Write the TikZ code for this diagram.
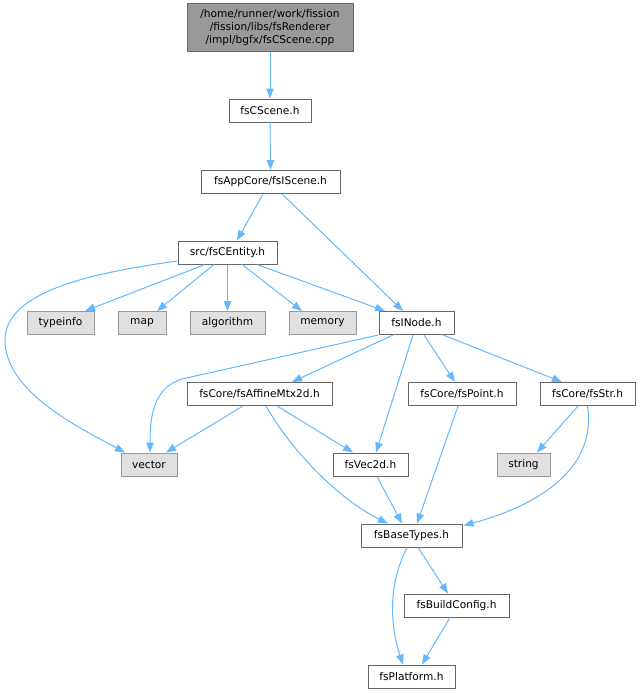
\documentclass[tikz,border=0pt]{standalone}
\usepackage{fontspec}
\setmainfont{DejaVu Sans}
\usetikzlibrary{arrows.meta,calc}
\definecolor{edgeblue}{HTML}{63B8FF}
\definecolor{boxborder}{HTML}{666666}
\definecolor{extborder}{HTML}{999999}
\definecolor{extfill}{HTML}{E0E0E0}
\definecolor{rootfill}{HTML}{999999}
\tikzset{
  filebox/.style={draw=boxborder, fill=white, line width=1pt, inner sep=0pt, minimum height=23pt, font=\fontsize{10.6}{13}\selectfont, text=black},
  extbox/.style={filebox, draw=extborder, fill=extfill},
  rootbox/.style={filebox, fill=rootfill, minimum height=48pt, align=center},
  dep/.style={draw=edgeblue, line width=1pt, -{Triangle[length=10pt,width=7.5pt]}, fill=none},
}
\begin{document}
\begin{tikzpicture}[x=1pt,y=-1pt]
\useasboundingbox (0,0) rectangle (640,693);
\node[rootbox, minimum width=166pt] (root) at (270,28) {/home/runner/work/fission\\/fission/libs/fsRenderer\\/impl/bgfx/fsCScene.cpp};
\node[filebox, minimum width=82pt] (cscene) at (270,110.5) {fsCScene.h};
\node[filebox, minimum width=139pt] (iscene) at (270.5,182) {fsAppCore/fsIScene.h};
\node[filebox, minimum width=99pt] (centity) at (227.5,252.5) {src/fsCEntity.h};
\node[extbox, minimum width=67pt] (typeinfo) at (60.5,323) {typeinfo};
\node[extbox, minimum width=48pt] (map) at (142,323) {map};
\node[extbox, minimum width=75pt] (algorithm) at (227.5,323) {algorithm};
\node[extbox, minimum width=67pt] (memory) at (322.5,323) {memory};
\node[filebox, minimum width=75pt] (inode) at (416.5,323) {fsINode.h};
\node[filebox, minimum width=145pt] (affine) at (259.5,394) {fsCore/fsAffineMtx2d.h};
\node[filebox, minimum width=108pt] (point) at (462,394) {fsCore/fsPoint.h};
\node[filebox, minimum width=95pt] (str) at (587.5,394) {fsCore/fsStr.h};
\node[extbox, minimum width=56pt] (vector) at (149,464.5) {vector};
\node[filebox, minimum width=75pt] (vec2d) at (370.5,464.5) {fsVec2d.h};
\node[extbox, minimum width=53pt] (string) at (523.5,464.5) {string};
\node[filebox, minimum width=101pt] (basetypes) at (411.5,535.5) {fsBaseTypes.h};
\node[filebox, minimum width=105pt] (buildconfig) at (456.5,605.5) {fsBuildConfig.h};
\node[filebox, minimum width=87pt] (platform) at (411.5,676.5) {fsPlatform.h};

\draw[dep] (root.south) -- (cscene.north);
\draw[dep] (cscene.south) -- (iscene.north);
\draw[dep] ($(iscene.south)+(-7.5,0)$) -- ($(centity.north)+(9.5,0)$);
\draw[dep] ($(iscene.south)+(11.5,0)$) -- ($(inode.north)+(-13.5,0)$);
\draw[dep] ($(centity.south)+(-22.5,0)$) -- ($(typeinfo.north)+(24.5,0)$);
\draw[dep] ($(centity.south)+(-13.5,0)$) -- ($(map.north)+(15,0)$);
\draw[dep] (centity.south) -- (algorithm.north);
\draw[dep] ($(centity.south)+(14.5,0)$) -- ($(memory.north)+(-20.5,0)$);
\draw[dep] ($(centity.south)+(29.5,0)$) -- ($(inode.north)+(-31.5,0)$);
\draw[dep] ($(centity.west)+(0,8.5)$) .. controls (90,273) and (5,292) .. (5,340) .. controls (5,392) and (80,428) .. ($(vector.north)+(-24,0)$);
\draw[dep] (inode.south west) -- (182,379) .. controls (152,388) and (150,420) .. ($(vector.north)+(1,0)$);
\draw[dep] ($(inode.south)+(-23.5,0)$) -- ($(affine.north)+(32.5,0)$);
\draw[dep] ($(inode.south)+(-3.5,0)$) -- ($(vec2d.north)+(5.5,0)$);
\draw[dep] ($(inode.south)+(7.5,0)$) -- ($(point.north)+(-7,0)$);
\draw[dep] ($(inode.south)+(26.5,0)$) -- ($(str.north)+(-25.5,0)$);
\draw[dep] ($(affine.south)+(-16.5,0)$) -- ($(vector.north)+(17,0)$);
\draw[dep] ($(affine.south)+(17.5,0)$) -- ($(vec2d.north)+(-17.5,0)$);
\draw[dep] ($(affine.south)+(6.5,0)$) .. controls (292,452) and (340,500) .. ($(basetypes.north)+(-23.5,0)$);
\draw[dep] ($(point.south)+(-4,0)$) -- ($(basetypes.north)+(5.5,0)$);
\draw[dep] ($(vec2d.south)+(6.5,0)$) -- ($(basetypes.north)+(-9.5,0)$);
\draw[dep] ($(str.south)+(-9.5,0)$) -- ($(string.north)+(13.5,0)$);
\draw[dep] ($(str.south)+(0,0)$) .. controls (597,468) and (540,505) .. ($(basetypes.north east)+(1,2)$);
\draw[dep] ($(basetypes.south)+(6.5,0)$) -- ($(buildconfig.north)+(-8.5,0)$);
\draw[dep] ($(basetypes.south)+(-4.5,0)$) .. controls (388,585) and (390,625) .. ($(platform.north)+(-8.5,0)$);
\draw[dep] ($(buildconfig.south)+(-6.5,0)$) -- ($(platform.north)+(10.5,0)$);
\end{tikzpicture}
\end{document}
